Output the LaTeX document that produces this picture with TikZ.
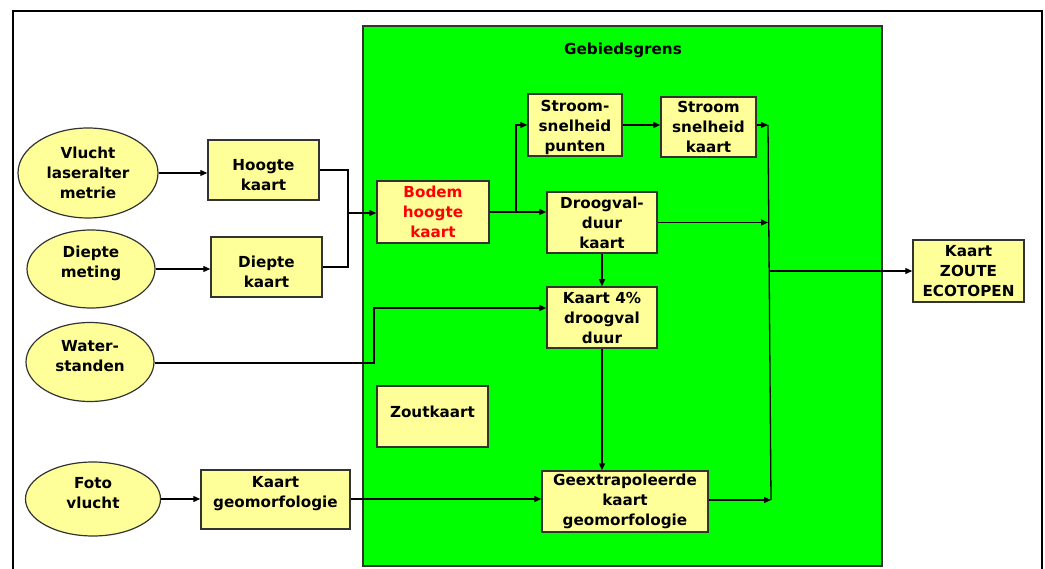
\documentclass[tikz,border=0pt]{standalone}
\usepackage{fontspec}
\setmainfont{DejaVu Sans}
\usetikzlibrary{arrows.meta,shapes.geometric}
\definecolor{boxyellow}{HTML}{FFFF99}
\definecolor{areagreen}{HTML}{00FF00}
\definecolor{edgegray}{HTML}{333333}
\begin{document}
\begin{tikzpicture}[x=1pt,y=-1pt,
  txt/.style={font=\fontsize{15.2}{20}\selectfont\bfseries, align=center},
  src/.style={ellipse, draw=edgegray, line width=1.2pt, fill=boxyellow, inner sep=0pt, txt},
  bx/.style={rectangle, draw=edgegray, line width=1.5pt, fill=boxyellow, inner sep=0pt, txt},
  arr/.style={-{Triangle[length=7pt,width=6pt]}, line width=1.3pt},
  ln/.style={line width=1.3pt}]
\useasboundingbox (0,0) rectangle (1045,569);
\fill[white] (0,0) rectangle (1045,569);
% outer frame
\draw[line width=2.5pt] (13,569) -- (13,11) -- (1042,11) -- (1042,569);
% green area
\node[rectangle, draw=edgegray, line width=1.8pt, fill=areagreen, minimum width=519pt, minimum height=540pt, inner sep=0pt] (area) at (622.5,296) {};
\node[txt] (title) at (623,50) {Gebiedsgrens};
% sources
\node[src, minimum width=140pt, minimum height=90pt] (vl) at (88,173) {Vlucht\\laseralter\\metrie};
\node[src, minimum width=128pt, minimum height=78pt, text depth=15pt] (dm) at (91,269) {Diepte\\meting};
\node[src, minimum width=128pt, minimum height=79pt, text depth=13pt] (ws) at (90,362) {Water-\\standen};
\node[src, minimum width=135pt, minimum height=74pt, text depth=13pt] (fv) at (93,499) {Foto\\vlucht};
% boxes
\node[bx, minimum width=111pt, minimum height=60pt, text height=41pt] (hk) at (263.5,170) {Hoogte\\kaart};
\node[bx, minimum width=111pt, minimum height=60pt, text height=42pt] (dk) at (266.5,267) {Diepte\\kaart};
\node[bx, minimum width=149pt, minimum height=59pt, text depth=16pt] (kg) at (275.5,499.5) {Kaart\\geomorfologie};
\node[bx, minimum width=112pt, minimum height=62pt, text=red] (bh) at (433,212) {Bodem\\hoogte\\kaart};
\node[bx, minimum width=94pt, minimum height=62pt, text height=55.5pt] (sp) at (575,125) {Stroom-\\snelheid\\punten};
\node[bx, minimum width=95pt, minimum height=60pt] (sk) at (708.5,127) {Stroom\\snelheid\\kaart};
\node[bx, minimum width=110pt, minimum height=61pt] (dv) at (602,222.5) {Droogval-\\duur\\kaart};
\node[bx, minimum width=110pt, minimum height=61pt] (k4) at (602,317.5) {Kaart 4\%\\droogval\\duur};
\node[bx, minimum width=111pt, minimum height=61pt, text depth=10pt] (zk) at (432.5,416.5) {Zoutkaart};
\node[bx, minimum width=166pt, minimum height=61pt] (ge) at (625,501.5) {Geextrapoleerde\\kaart\\geomorfologie};
\node[bx, minimum width=111pt, minimum height=62pt] (ze) at (968.5,271) {Kaart\\ZOUTE\\ECOTOPEN};
% helper coordinates
\coordinate (join) at (348,213);
\coordinate (branch) at (516,212);
\coordinate (bustop) at (768,125);
\coordinate (busbot) at (771,500);
\coordinate (wbend) at (374,363);
% connectors
\draw[arr] (vl.east) -- (vl.east -| hk.west);
\draw[arr] (dm.east) -- (dm.east -| dk.west);
\draw[arr] (fv.east) -- (fv.east -| kg.west);
\draw[ln] (hk.east) -| (join);
\draw[ln] (dk.east) -| (join);
\draw[arr] (join) -- (join -| bh.west);
\draw[arr] (bh.east |- branch) -- (branch -| dv.west);
\draw[arr] (branch) |- (sp.west);
\draw[arr] (sp.east) -- (sp.east -| sk.west);
\draw[ln] (bustop) -- (busbot);
\draw[arr] (sk.east |- bustop) -- (bustop);
\draw[arr] (dv.east) -- (dv.east -| bustop);
\draw[arr] (ge.east |- busbot) -- (busbot);
\draw[arr] (ze.west -| 770,0) -- (ze.west);
\draw[arr] (dv.south) -- (k4.north);
\draw[arr] (k4.south) -- (k4.south |- ge.north);
\draw[arr] (ws.east |- wbend) -- (wbend) |- ([yshift=9.5pt]k4.west);
\draw[arr] (kg.east |- fv.east) -- (fv.east -| ge.west);
\end{tikzpicture}
\end{document}
